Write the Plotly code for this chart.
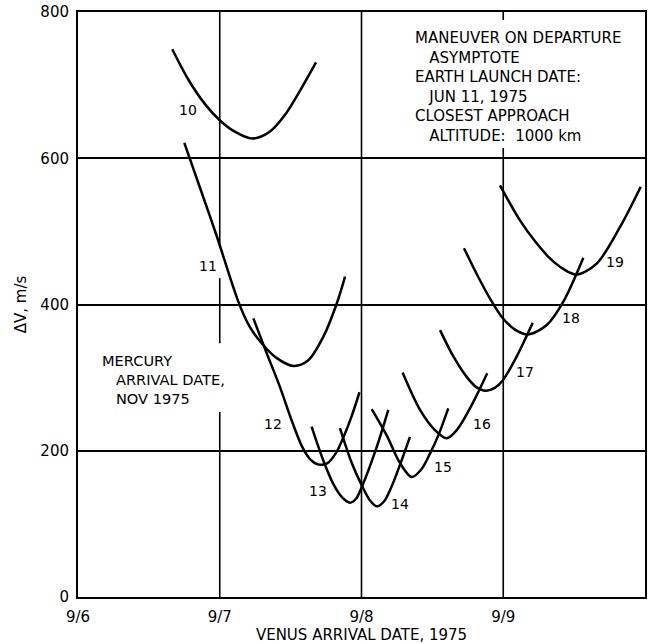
import plotly.graph_objects as go

# ---- data (x = day of September 1975, y = delta V in m/s) ----
c10_x = [6.665, 6.78, 6.90, 7.00, 7.10, 7.228, 7.35, 7.47, 7.58, 7.679]
c10_y = [749, 707, 673, 652, 637, 627, 636, 662, 697, 731]
c11_x = [6.750, 6.860, 6.978, 7.131, 7.210, 7.300, 7.400, 7.519, 7.620, 7.731, 7.825, 7.884]
c11_y = [621, 560, 494, 404, 370, 346, 327, 316, 323, 356, 401, 438]
c12_x = [7.237, 7.330, 7.425, 7.510, 7.580, 7.640, 7.700, 7.760, 7.820, 7.880, 7.930, 7.986]
c12_y = [381, 334, 287, 240, 206, 188, 181, 183, 197, 222, 247, 280]
c13_x = [7.648, 7.730, 7.800, 7.860, 7.919, 7.960, 8.001, 8.107, 8.189]
c13_y = [233, 187, 155, 137, 129, 134, 150, 205, 256]
c14_x = [7.848, 7.930, 8.001, 8.060, 8.107, 8.160, 8.210, 8.270, 8.342]
c14_y = [231, 184, 153, 132, 124, 131, 150, 180, 219]
c15_x = [8.072, 8.178, 8.272, 8.354, 8.420, 8.483, 8.542, 8.612]
c15_y = [257, 221, 183, 164, 174, 196, 221, 258]
c16_x = [8.290, 8.413, 8.520, 8.600, 8.671, 8.776, 8.887]
c16_y = [307, 256, 228, 217, 228, 262, 306]
c17_x = [8.554, 8.648, 8.742, 8.810, 8.877, 8.940, 8.996, 9.095, 9.208]
c17_y = [365, 329, 301, 287, 282, 286, 296, 329, 375]
c18_x = [8.723, 8.820, 8.907, 8.990, 9.080, 9.177, 9.307, 9.424, 9.565]
c18_y = [477, 439, 408, 383, 366, 359, 372, 404, 464]
c19_x = [8.977, 9.118, 9.230, 9.330, 9.420, 9.518, 9.659, 9.824, 9.970]
c19_y = [563, 515, 485, 463, 449, 441, 456, 506, 561]

curve_names = ["10", "11", "12", "13", "14", "15", "16", "17", "18", "19"]
curve_xs = [c10_x, c11_x, c12_x, c13_x, c14_x, c15_x, c16_x, c17_x, c18_x, c19_x]
curve_ys = [c10_y, c11_y, c12_y, c13_y, c14_y, c15_y, c16_y, c17_y, c18_y, c19_y]

label_x = [6.776, 6.919, 7.378, 7.695, 8.272, 8.575, 8.848, 9.153, 9.476, 9.788]
label_y = [666, 452, 236, 145, 127, 178, 236, 308, 381, 458]

x_tickvals = [6, 7, 8, 9, 10]
x_ticktext = ["9/6", "9/7", "9/8", "9/9", "9/10"]
y_tickvals = [0, 200, 400, 600, 800]

NB = "\u00a0"
box_text = "<br>".join(["MANEUVER ON DEPARTURE", NB * 3 + "ASYMPTOTE", "EARTH LAUNCH DATE:",
                        NB * 3 + "JUN 11, 1975", "CLOSEST APPROACH", NB * 3 + "ALTITUDE:  1000 km"])
mercury_text = "<br>".join(["MERCURY", NB * 3 + "ARRIVAL DATE,", NB * 3 + "NOV 1975"])

FONT = "DejaVu Sans"

fig = go.Figure()
for name, xs, ys in zip(curve_names, curve_xs, curve_ys):
    fig.add_trace(go.Scatter(x=xs, y=ys, mode="lines", name=name,
                             line=dict(color="black", width=2.5, shape="spline", smoothing=0.9),
                             showlegend=False, hoverinfo="skip"))

annotations = []
for name, lx, ly in zip(curve_names, label_x, label_y):
    annotations.append(dict(x=lx, y=ly, text=name, showarrow=False, xref="x", yref="y",
                            font=dict(family=FONT, size=14, color="black")))

annotations.append(dict(x=8.363, y=697, text=box_text, showarrow=False, xref="x", yref="y",
                        xanchor="left", yanchor="middle", align="left",
                        font=dict(family=FONT, size=15, color="black")))
annotations.append(dict(x=6.155, y=297, text=mercury_text, showarrow=False, xref="x", yref="y",
                        xanchor="left", yanchor="middle", align="left",
                        font=dict(family=FONT, size=14.6, color="black")))

# vertical grid lines (interrupted around the text)
vgrid = {7: [(0, 253), (347, 436), (478, 800)],
         8: [(0, 800)],
         9: [(0, 614), (789, 800)]}
shapes = []
for gx, segs in vgrid.items():
    for y0, y1 in segs:
        shapes.append(dict(type="line", xref="x", yref="y", x0=gx, x1=gx, y0=y0, y1=y1,
                           line=dict(color="black", width=1.6), layer="below"))

fig.update_layout(
    width=654, height=644,
    margin=dict(l=78, r=9, t=12, b=47),
    plot_bgcolor="white", paper_bgcolor="white",
    font=dict(family=FONT, color="black"),
    annotations=annotations, shapes=shapes,
    xaxis=dict(range=[6, 10], tickvals=x_tickvals, ticktext=x_ticktext, automargin=False,
               showgrid=False, zeroline=False, showline=True, mirror=True,
               linecolor="black", linewidth=2, ticks="", ticklabelstandoff=5,
               tickfont=dict(family=FONT, size=15, color="black"),
               title=dict(text="VENUS ARRIVAL DATE, 1975", standoff=6,
                          font=dict(family=FONT, size=15, color="black"))),
    yaxis=dict(range=[0, 800], tickvals=y_tickvals, automargin=False,
               showgrid=True, gridcolor="black", gridwidth=1.5,
               zeroline=False, showline=True, mirror=True,
               linecolor="black", linewidth=2, ticks="", ticklabelstandoff=4,
               tickfont=dict(family=FONT, size=15, color="black"),
               title=dict(text="ΔV, m/s", standoff=10,
                          font=dict(family=FONT, size=15, color="black"))),
)

fig.write_html("out.html")
